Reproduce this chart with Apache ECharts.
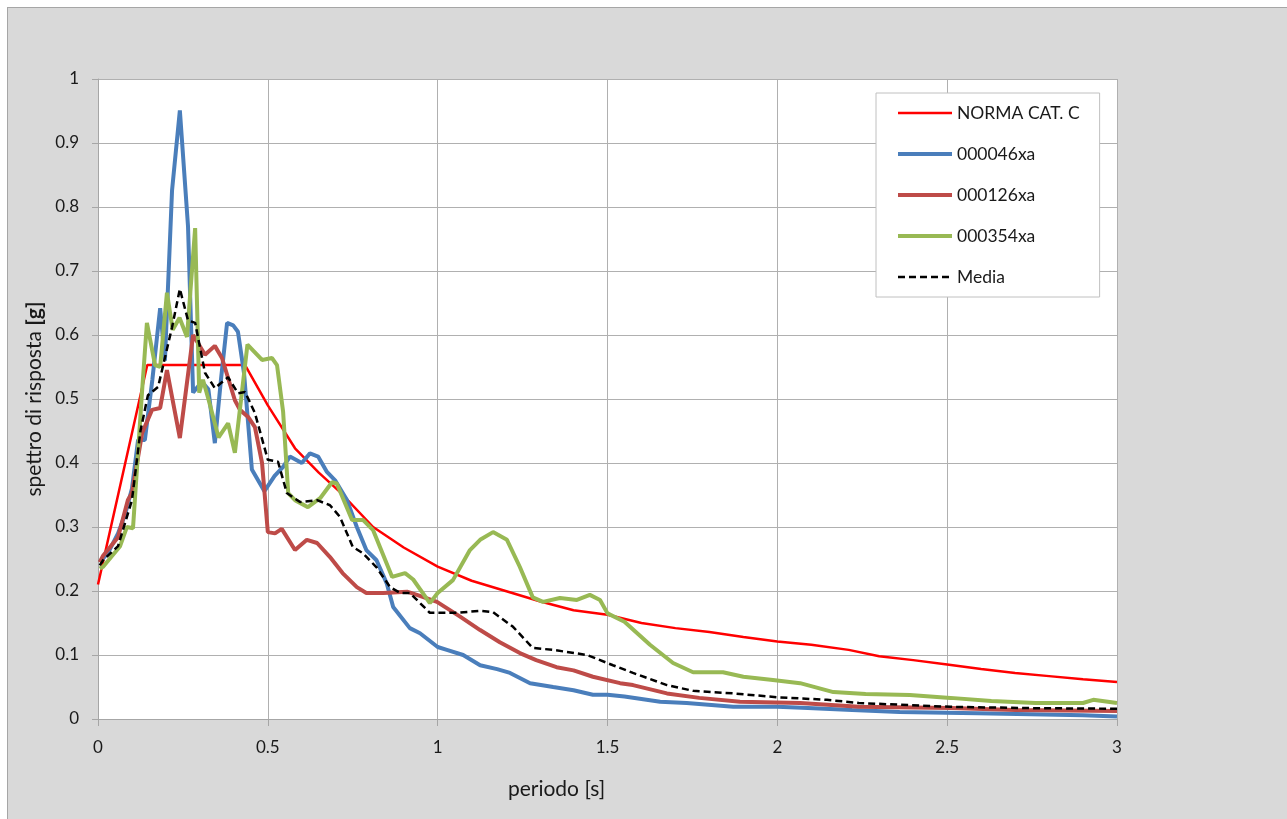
<!DOCTYPE html>
<html>
<head>
<meta charset="utf-8">
<script src="https://cdn.jsdelivr.net/npm/echarts@6/dist/echarts.min.js"></script>
<style>
  html, body { margin: 0; padding: 0; background: #ffffff; }
  #bg { position: absolute; left: 7px; top: 7px; width: 1300px; height: 830px; background: #d9d9d9; border: 1px solid #a6a6a6; box-sizing: border-box; }
  #chart { position: absolute; left: 0; top: 0; width: 1287px; height: 819px; }
</style>
</head>
<body>
<div id="bg"></div>
<div id="chart"></div>
<script>
// ---- data ----
var seriesNames = ['NORMA CAT. C', '000046xa', '000126xa', '000354xa', 'Media'];

var tNorma = [0, 0.145, 0.433, 0.5, 0.58, 0.65, 0.712, 0.81, 0.9, 1.0, 1.1, 1.2, 1.3, 1.4, 1.5, 1.6, 1.7, 1.8, 1.9, 2.0, 2.1, 2.21, 2.3, 2.4, 2.5, 2.6, 2.7, 2.8, 2.9, 3.0];
var vNorma = [0.21, 0.553, 0.553, 0.49, 0.423, 0.385, 0.355, 0.30, 0.268, 0.238, 0.216, 0.2, 0.184, 0.17, 0.163, 0.15, 0.142, 0.136, 0.128, 0.121, 0.116, 0.108, 0.098, 0.092, 0.085, 0.078, 0.072, 0.067, 0.062, 0.058];

var t046 = [0.005, 0.03, 0.059, 0.08, 0.1, 0.118, 0.138, 0.16, 0.183, 0.197, 0.218, 0.241, 0.265, 0.28, 0.295, 0.309, 0.325, 0.344, 0.362, 0.38, 0.398, 0.412, 0.43, 0.453, 0.49, 0.52, 0.545, 0.565, 0.6, 0.624, 0.648, 0.674, 0.698, 0.733, 0.762, 0.79, 0.82, 0.85, 0.869, 0.918, 0.948, 1.0, 1.027, 1.075, 1.125, 1.175, 1.213, 1.272, 1.34, 1.40, 1.457, 1.5, 1.55, 1.655, 1.733, 1.87, 2.0, 2.09, 2.22, 2.36, 2.59, 2.9, 3.0];
var v046 = [0.245, 0.26, 0.29, 0.32, 0.36, 0.436, 0.436, 0.53, 0.642, 0.56, 0.826, 0.951, 0.77, 0.51, 0.52, 0.525, 0.515, 0.431, 0.53, 0.619, 0.615, 0.605, 0.54, 0.39, 0.356, 0.38, 0.394, 0.41, 0.40, 0.415, 0.41, 0.386, 0.373, 0.342, 0.30, 0.264, 0.248, 0.212, 0.175, 0.142, 0.134, 0.1125, 0.108, 0.10, 0.084, 0.078, 0.072, 0.056, 0.05, 0.045, 0.038, 0.038, 0.035, 0.027, 0.025, 0.019, 0.019, 0.017, 0.014, 0.011, 0.009, 0.006, 0.004];

var t126 = [0.005, 0.015, 0.059, 0.088, 0.1, 0.13, 0.159, 0.183, 0.203, 0.241, 0.28, 0.315, 0.344, 0.365, 0.403, 0.418, 0.442, 0.462, 0.483, 0.50, 0.521, 0.541, 0.58, 0.615, 0.645, 0.683, 0.72, 0.762, 0.79, 0.84, 0.91, 0.939, 0.998, 1.066, 1.125, 1.183, 1.242, 1.29, 1.35, 1.40, 1.457, 1.537, 1.575, 1.675, 1.77, 1.89, 2.067, 2.24, 2.51, 2.7, 3.0];
var v126 = [0.245, 0.255, 0.284, 0.342, 0.353, 0.447, 0.483, 0.486, 0.545, 0.439, 0.60, 0.569, 0.583, 0.564, 0.498, 0.483, 0.472, 0.456, 0.40, 0.292, 0.29, 0.297, 0.264, 0.28, 0.275, 0.253, 0.228, 0.206, 0.197, 0.197, 0.199, 0.194, 0.183, 0.16, 0.139, 0.12, 0.103, 0.092, 0.081, 0.076, 0.066, 0.056, 0.053, 0.04, 0.033, 0.027, 0.025, 0.019, 0.017, 0.014, 0.0125];

var t354 = [0.005, 0.015, 0.065, 0.085, 0.103, 0.13, 0.144, 0.168, 0.183, 0.203, 0.22, 0.24, 0.262, 0.286, 0.298, 0.309, 0.325, 0.355, 0.383, 0.403, 0.44, 0.483, 0.512, 0.527, 0.545, 0.56, 0.58, 0.618, 0.654, 0.689, 0.703, 0.748, 0.78, 0.81, 0.866, 0.904, 0.928, 0.977, 1.0, 1.045, 1.095, 1.125, 1.163, 1.204, 1.242, 1.28, 1.31, 1.36, 1.41, 1.448, 1.478, 1.50, 1.55, 1.625, 1.693, 1.752, 1.84, 1.9, 1.987, 2.067, 2.165, 2.26, 2.39, 2.51, 2.63, 2.76, 2.9, 2.93, 3.0];
var v354 = [0.235, 0.238, 0.27, 0.30, 0.298, 0.514, 0.619, 0.553, 0.55, 0.666, 0.608, 0.627, 0.597, 0.767, 0.51, 0.53, 0.50, 0.44, 0.462, 0.416, 0.585, 0.561, 0.564, 0.553, 0.48, 0.353, 0.342, 0.331, 0.345, 0.37, 0.368, 0.311, 0.311, 0.295, 0.222, 0.228, 0.218, 0.181, 0.197, 0.217, 0.264, 0.28, 0.292, 0.28, 0.2375, 0.19, 0.183, 0.189, 0.186, 0.194, 0.186, 0.165, 0.152, 0.116, 0.0875, 0.073, 0.073, 0.066, 0.061, 0.056, 0.042, 0.039, 0.0375, 0.033, 0.028, 0.025, 0.025, 0.03, 0.025];

var tMedia = [0.005, 0.015, 0.059, 0.1, 0.125, 0.147, 0.177, 0.218, 0.241, 0.265, 0.286, 0.315, 0.344, 0.383, 0.412, 0.433, 0.462, 0.5, 0.53, 0.556, 0.595, 0.645, 0.683, 0.712, 0.75, 0.78, 0.82, 0.86, 0.89, 0.918, 0.977, 1.057, 1.125, 1.163, 1.222, 1.28, 1.34, 1.44, 1.516, 1.575, 1.675, 1.752, 1.87, 2.0, 2.146, 2.24, 2.51, 2.75, 3.0];
var vMedia = [0.24, 0.248, 0.27, 0.342, 0.45, 0.506, 0.519, 0.612, 0.672, 0.623, 0.619, 0.541, 0.517, 0.534, 0.509, 0.511, 0.478, 0.405, 0.402, 0.353, 0.339, 0.342, 0.334, 0.316, 0.269, 0.259, 0.237, 0.206, 0.197, 0.197, 0.166, 0.166, 0.169, 0.167, 0.144, 0.111, 0.108, 0.10, 0.084, 0.072, 0.053, 0.044, 0.04, 0.034, 0.03, 0.025, 0.019, 0.017, 0.016];

var xTicks = { min: 0, max: 3, interval: 0.5 };
var yTicks = { min: 0, max: 1, interval: 0.1 };

function pairs(t, v) { return t.map(function (x, i) { return [x, v[i]]; }); }

var colors = ['#ff0000', '#4a7ebb', '#be4b48', '#98b954', '#000000'];
var widths = [2.5, 4, 4, 4, 2.5];
var dataSets = [pairs(tNorma, vNorma), pairs(t046, v046), pairs(t126, v126), pairs(t354, v354), pairs(tMedia, vMedia)];

var FONT = 'Lato';
var TXT = '#1a1a1a';
var TITLE_SIZE = 21;
var chart = echarts.init(document.getElementById('chart'), null, { renderer: 'canvas' });
chart.setOption({
  animation: false,
  backgroundColor: 'transparent',
  textStyle: { fontFamily: FONT },
  grid: { left: 98, top: 79, right: 170, bottom: 100, show: true, backgroundColor: '#ffffff', borderWidth: 0 },
  xAxis: {
    type: 'value', min: xTicks.min, max: xTicks.max, interval: xTicks.interval,
    name: 'periodo [s]', nameLocation: 'middle', nameGap: 60,
    nameTextStyle: { fontFamily: FONT, fontSize: TITLE_SIZE, color: TXT, padding: [0, 102, 0, 0] },
    axisLine: { show: true, lineStyle: { color: '#a6a6a6', width: 1 } },
    axisTick: { show: true, length: 7, lineStyle: { color: '#a6a6a6' } },
    axisLabel: { margin: 20, fontFamily: FONT, fontSize: 17, color: TXT },
    splitLine: { show: true, lineStyle: { color: '#b0b0b0', width: 1 } }
  },
  yAxis: {
    type: 'value', min: yTicks.min, max: yTicks.max, interval: yTicks.interval,
    name: '{a|spettro di risposta }{b|[g]}', nameLocation: 'middle', nameGap: 50, nameRotate: 90,
    nameTextStyle: { fontFamily: FONT, fontSize: TITLE_SIZE, color: TXT, padding: [0, 0, 0, 0],
      rich: { a: { fontFamily: FONT, fontSize: TITLE_SIZE, color: TXT }, b: { fontFamily: FONT, fontSize: TITLE_SIZE, fontWeight: 'bold', color: TXT } } },
    axisLine: { show: true, lineStyle: { color: '#a6a6a6', width: 1 } },
    axisTick: { show: true, length: 6, lineStyle: { color: '#a6a6a6' } },
    axisLabel: { margin: 19, fontFamily: FONT, fontSize: 17, color: TXT },
    splitLine: { show: true, lineStyle: { color: '#b0b0b0', width: 1 } }
  },
  legend: {
    orient: 'vertical', left: 876, top: 93,
    backgroundColor: '#ffffff', borderColor: '#c0c0c0', borderWidth: 1,
    padding: [11, 20, 11, 20], itemGap: 23, itemWidth: 54, itemHeight: 18,
    textStyle: { fontFamily: FONT, fontSize: 17.5, color: TXT },
    itemStyle: { color: 'rgba(0,0,0,0)', borderWidth: 0 },
    lineStyle: { width: 'inherit' },
    data: seriesNames
  },
  series: seriesNames.map(function (n, i) {
    return {
      name: n, type: 'line', data: dataSets[i], symbol: 'none', smooth: false,
      lineStyle: { color: colors[i], width: widths[i], type: i === 4 ? [7, 4] : 'solid' },
      itemStyle: { color: colors[i] }
    };
  })
});
</script>
</body>
</html>
